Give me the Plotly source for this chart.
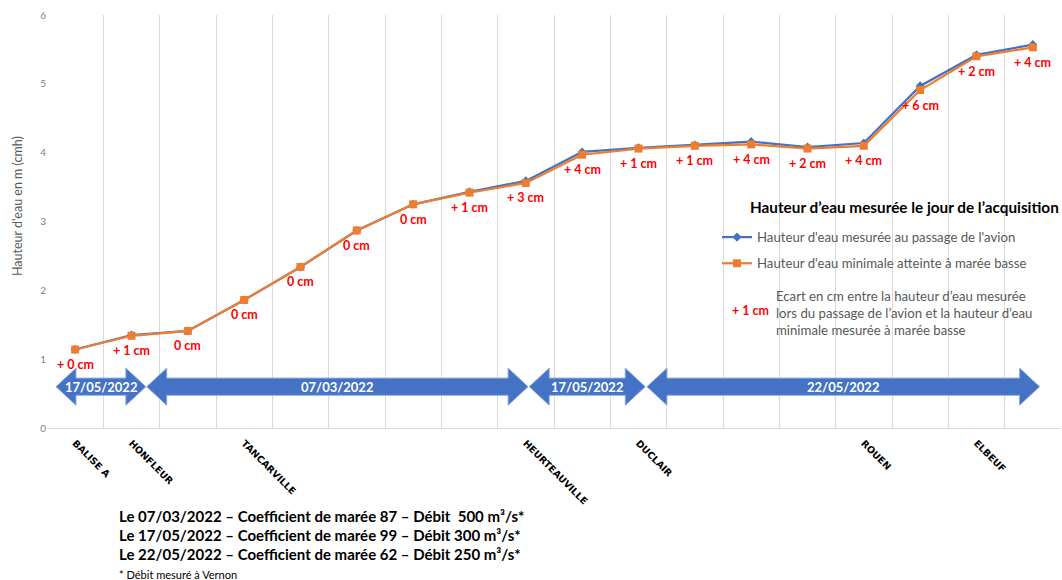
import plotly.graph_objects as go

# Stations along the estuary (only some are named on the axis)
stations = ["BALISE A", "HONFLEUR", "", "TANCARVILLE", "", "", "", "", "HEURTEAUVILLE",
            "", "DUCLAIR", "", "", "", "ROUEN", "", "ELBEUF", ""]

# Minimum water height reached at low tide (m, CMH)
h_min = [1.14, 1.34, 1.41, 1.86, 2.34, 2.87, 3.25, 3.42, 3.56,
         3.97, 4.06, 4.10, 4.12, 4.06, 4.10, 4.91, 5.40, 5.53]

# Gap (cm) between the height measured when the plane passed and the low-tide minimum
gap_cm = [0, 1, 0, 0, 0, 0, 0, 1, 3, 4, 1, 1, 4, 2, 4, 6, 2, 4]
gap_text = ["+ 0 cm", "+ 1 cm", "0 cm", "0 cm", "0 cm", "0 cm", "0 cm", "+ 1 cm", "+ 3 cm",
            "+ 4 cm", "+ 1 cm", "+ 1 cm", "+ 4 cm", "+ 2 cm", "+ 4 cm", "+ 6 cm", "+ 2 cm", "+ 4 cm"]

# Height measured when the plane passed
h_plane = [round(m + g / 100.0, 2) for m, g in zip(h_min, gap_cm)]

# Acquisition date for each stretch of the river (start / end on the station axis)
acq_dates = ["17/05/2022", "07/03/2022", "17/05/2022", "22/05/2022"]
acq_start = [-0.34, 1.27, 8.06, 10.15]
acq_end = [1.255, 8.04, 10.12, 17.12]

notes = [
    "Le 07/03/2022 – Coefficient de marée 87 – Débit  500 m³/s*",
    "Le 17/05/2022 – Coefficient de marée 99 – Débit 300 m³/s*",
    "Le 22/05/2022 – Coefficient de marée 62 – Débit 250 m³/s*",
]

BLUE = "#4472C4"
ORANGE = "#ED7D31"
GRID = "#D9D9D9"
GREY = "#595959"
FONT = "Lato"

W, H = 1062, 580
L, R, T, B = 47, 1, 15, 152
PW, PH = W - L - R, H - T - B


def px_x(px):
    return (px - L) / PW


def px_y(py):
    return (H - B - py) / PH


x = list(range(len(stations)))

fig = go.Figure()

fig.add_trace(go.Scatter(
    x=x, y=h_plane, mode="lines+markers",
    name="Hauteur d'eau mesurée au passage de l'avion",
    line=dict(color=BLUE, width=2.25),
    marker=dict(symbol="diamond", size=7, color=BLUE),
    legendgroup="a",
))
fig.add_trace(go.Scatter(
    x=x, y=h_min, mode="lines+markers",
    name="Hauteur d'eau minimale atteinte à marée basse",
    line=dict(color=ORANGE, width=2.25),
    marker=dict(symbol="square", size=8, color=ORANGE),
    legendgroup="b",
))

# Gap labels under each low-tide point
for xi, yi, t in zip(x, h_min, gap_text):
    fig.add_annotation(x=xi, y=yi, xref="x", yref="y", text=f"<b>{t}</b>",
                       showarrow=False, yshift=-15, xanchor="center", yanchor="middle",
                       font=dict(family=FONT, size=12.5, color="#FF0000"))

# Double-headed block arrows showing the acquisition date of each stretch
y_c, shaft, head, head_len = 0.60, 0.125, 0.27, 0.355
for label, x0, x1 in zip(acq_dates, acq_start, acq_end):
    path = (
        f"M {x0} {y_c} L {x0 + head_len} {y_c + head} L {x0 + head_len} {y_c + shaft} "
        f"L {x1 - head_len} {y_c + shaft} L {x1 - head_len} {y_c + head} L {x1} {y_c} "
        f"L {x1 - head_len} {y_c - head} L {x1 - head_len} {y_c - shaft} "
        f"L {x0 + head_len} {y_c - shaft} L {x0 + head_len} {y_c - head} Z"
    )
    fig.add_shape(type="path", path=path, xref="x", yref="y",
                  fillcolor=BLUE, line=dict(color="#8FAADC", width=1), layer="above")
    fig.add_annotation(x=(x0 + x1) / 2, y=y_c, xref="x", yref="y", text=f"<b>{label}</b>",
                       showarrow=False, font=dict(family=FONT, size=13, color="white"))

# Legend title and third (text-only) entry
fig.add_annotation(x=px_x(748), y=px_y(207), xref="paper", yref="paper",
                   xanchor="left", yanchor="middle", showarrow=False,
                   text="<b>Hauteur d’eau mesurée le jour de l’acquisition</b>",
                   font=dict(family=FONT, size=15.3, color="black"))
fig.add_annotation(x=px_x(750), y=px_y(310), xref="paper", yref="paper",
                   xanchor="center", yanchor="middle", showarrow=False,
                   text="<b>+ 1 cm</b>", font=dict(family=FONT, size=12.5, color="#FF0000"))
fig.add_annotation(x=px_x(774), y=px_y(313), xref="paper", yref="paper",
                   xanchor="left", yanchor="middle", align="left", showarrow=False,
                   text="Ecart en cm entre la hauteur d’eau mesurée<br>"
                        "lors du passage de l’avion et la hauteur d’eau<br>"
                        "minimale mesurée à marée basse",
                   font=dict(family=FONT, size=13.2, color=GREY))

# Y-axis title
fig.add_annotation(x=px_x(17), y=px_y(206), xref="paper", yref="paper",
                   textangle=-90, showarrow=False, xanchor="center", yanchor="middle",
                   text="Hauteur d'eau en m (cmh)",
                   font=dict(family=FONT, size=12.5, color=GREY))

# Notes under the chart
for i, line in enumerate(notes):
    fig.add_annotation(x=px_x(117), y=px_y(516 + 19 * i), xref="paper", yref="paper",
                       xanchor="left", yanchor="middle", showarrow=False,
                       text=f"<b>{line}</b>", font=dict(family=FONT, size=15, color="black"))
fig.add_annotation(x=px_x(117), y=px_y(574), xref="paper", yref="paper",
                   xanchor="left", yanchor="middle", showarrow=False,
                   text="* Débit mesuré à Vernon", font=dict(family=FONT, size=11, color="black"))

named = [i for i, s in enumerate(stations) if s]
fig.update_xaxes(
    range=[-0.5, len(stations) - 0.5],
    tickmode="array", tickvals=named, ticktext=["<b>%s</b>" % stations[i] for i in named],
    tickangle=45, tickfont=dict(family="DejaVu Sans", size=9.5, color="black"),
    ticklabelstandoff=5,
    showgrid=False, zeroline=False, ticks="",
    showline=True, linecolor=GRID, linewidth=1,
    minor=dict(tickmode="array", tickvals=[i - 0.5 for i in range(len(stations) + 1)],
               showgrid=True, gridcolor=GRID, gridwidth=1, ticks=""),
)
fig.update_yaxes(
    range=[0, 6], dtick=1, showgrid=False, zeroline=False, showline=False,
    tickfont=dict(family=FONT, size=10, color="#7F7F7F"), ticks="",
)

fig.update_layout(
    width=W, height=H,
    margin=dict(l=L, r=R, t=T, b=B),
    plot_bgcolor="white", paper_bgcolor="white",
    font=dict(family=FONT),
    showlegend=True,
    legend=dict(x=px_x(717), y=px_y(222), xanchor="left", yanchor="top",
                font=dict(family=FONT, size=13.2, color=GREY),
                bgcolor="rgba(0,0,0,0)", tracegroupgap=6, itemwidth=30),
)

fig.write_html("out.html")
